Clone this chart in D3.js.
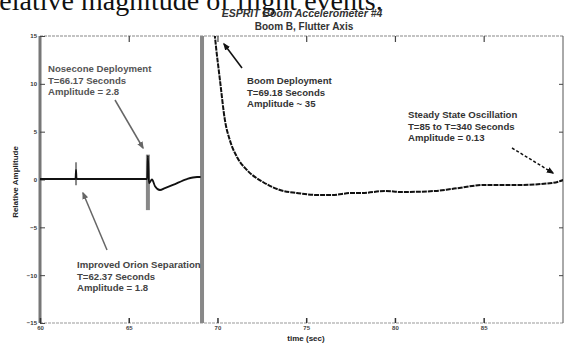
<!DOCTYPE html>
<html>
<head>
<meta charset="utf-8">
<script src="https://cdn.jsdelivr.net/npm/d3@7"></script>
<style>
  body { margin: 0; background: #fff; }
  svg { display: block; }
  text { font-family: "Liberation Sans", Arial, sans-serif; }
</style>
</head>
<body>
<svg id="chart"></svg>
<script>
// y ticks and x ticks
var yTicks = [-15, -10, -5, 0, 5, 10, 15];
var xTicks = [60, 65, 70, 75, 80, 85];

// trace before boom deployment (seconds, relative amplitude)
var preTime = [60.0, 61.0, 62.00, 62.03, 62.06, 64.0, 66.04, 66.08, 66.14, 66.31, 66.48, 66.76, 67.04, 67.49, 68.28, 68.85, 69.05];
var preAmp  = [0.05, 0.05, 0.05,  1.0,   0.05,  0.05, 0.05,  2.5,   -0.4,  0.0,  -0.7,  -1.1,  -0.9,  -0.57, 0.05,  0.26,  0.26];

// trace after boom deployment
var postTime = [69.78, 69.86, 70.14, 70.42, 70.70, 71.10, 71.66, 72.56, 73.52, 74.48, 75.66, 76.45, 77.58, 78.14, 79.44, 80.39, 82.25, 83.21, 85.07, 86.93, 88.85, 89.5];
var postAmp  = [16.5,  14.9,  10.4,  6.2,   4.1,   2.35,  0.99,  -0.26, -1.1,  -1.41, -1.62, -1.62, -1.41, -1.41, -1.20, -1.31, -1.20, -0.99, -0.57, -0.57, -0.37, -0.05];

// event bursts: time, peak high, peak low
var burstTime = [62.03, 66.08, 69.13];
var burstHigh = [1.8, 2.6, 35];
var burstLow  = [-0.6, -3.2, -35];

var W = 570, H = 345;
var m = {left: 40, right: 7, top: 36, bottom: 22};

var svg = d3.select("#chart").attr("width", W).attr("height", H);

var x = d3.scaleLinear().domain([60, 89.47]).range([m.left, W - m.right]);
var y = d3.scaleLinear().domain([-15, 15]).range([H - m.bottom, m.top]);

svg.append("clipPath").attr("id", "plot")
  .append("rect")
    .attr("x", m.left).attr("y", m.top)
    .attr("width", W - m.right - m.left)
    .attr("height", H - m.bottom - m.top);

// page heading cut off by the scan
svg.append("text")
    .attr("x", -10).attr("y", 10)
    .attr("font-size", 28)
    .attr("fill", "#111")
    .style("font-family", "'Liberation Serif', 'Times New Roman', serif")
    .text("relative magnitude of flight events.");

// titles
svg.append("text")
    .attr("x", 302).attr("y", 17)
    .attr("text-anchor", "middle")
    .attr("font-size", 10.5).attr("font-weight", "bold").attr("font-style", "italic")
    .attr("fill", "#333")
    .text("ESPRIT Boom Accelerometer #4");
svg.append("text")
    .attr("x", 304).attr("y", 30)
    .attr("text-anchor", "middle")
    .attr("font-size", 10).attr("font-weight", "bold")
    .attr("fill", "#333")
    .text("Boom B, Flutter Axis");

// frame
svg.append("line")
    .attr("x1", m.left).attr("x2", W - m.right)
    .attr("y1", m.top).attr("y2", m.top)
    .attr("stroke", "#888").attr("stroke-width", 1.2)
    .attr("stroke-dasharray", "3,1");
svg.append("line")
    .attr("x1", m.left).attr("x2", W - m.right)
    .attr("y1", H - m.bottom).attr("y2", H - m.bottom)
    .attr("stroke", "#999").attr("stroke-width", 1.2)
    .attr("stroke-dasharray", "3,1");
svg.append("line")
    .attr("x1", W - m.right).attr("x2", W - m.right)
    .attr("y1", m.top).attr("y2", H - m.bottom)
    .attr("stroke", "#555").attr("stroke-width", 1);
svg.append("line")
    .attr("x1", m.left).attr("x2", m.left)
    .attr("y1", m.top).attr("y2", H - m.bottom)
    .attr("stroke", "#777").attr("stroke-width", 3);

// y ticks and labels
var yAxisL = d3.axisLeft(y).tickValues(yTicks).tickSize(-5).tickPadding(3);
var gl = svg.append("g").attr("transform", "translate(" + m.left + ",0)").call(yAxisL);
gl.select(".domain").remove();
gl.selectAll("line").attr("stroke", "#444");
gl.selectAll("text").attr("font-size", 6).attr("font-weight", "bold").attr("fill", "#333")
  .attr("font-family", "Liberation Sans, Arial, sans-serif");

var yAxisR = d3.axisRight(y).tickValues([-10, -5, 5, 10]).tickSize(-4).tickFormat("");
var gr = svg.append("g").attr("transform", "translate(" + (W - m.right) + ",0)").call(yAxisR);
gr.select(".domain").remove();
gr.selectAll("line").attr("stroke", "#444");

// x ticks and labels
var xAxisB = d3.axisBottom(x).tickValues(xTicks).tickSize(-5).tickPadding(3);
var gb = svg.append("g").attr("transform", "translate(0," + (H - m.bottom) + ")").call(xAxisB);
gb.select(".domain").remove();
gb.selectAll("line").attr("stroke", "#333").attr("stroke-width", 1.5);
gb.selectAll("text").attr("font-size", 6).attr("font-weight", "bold").attr("fill", "#444")
  .attr("font-family", "Liberation Sans, Arial, sans-serif");

var xAxisT = d3.axisTop(x).tickValues(xTicks.slice(1)).tickSize(-6).tickFormat("");
var gt = svg.append("g").attr("transform", "translate(0," + m.top + ")").call(xAxisT);
gt.select(".domain").remove();
gt.selectAll("line").attr("stroke", "#444").attr("stroke-width", 1.2);

// axis titles
svg.append("text")
    .attr("transform", "translate(18," + 182 + ") rotate(-90)")
    .attr("text-anchor", "middle")
    .attr("font-size", 8).attr("font-weight", "bold").attr("fill", "#222")
    .text("Relative Amplitude");
svg.append("text")
    .attr("x", 306).attr("y", 341)
    .attr("text-anchor", "middle")
    .attr("font-size", 8).attr("font-weight", "bold").attr("fill", "#222")
    .text("time (sec)");

var plot = svg.append("g").attr("clip-path", "url(#plot)");

// event bursts
var burstW = [2, 4, 4];
plot.selectAll("rect.burst")
  .data(burstTime)
  .join("rect")
    .attr("class", "burst")
    .attr("x", function(d, i) { return x(d) - burstW[i] / 2; })
    .attr("width", function(d, i) { return burstW[i]; })
    .attr("y", function(d, i) { return y(burstHigh[i]); })
    .attr("height", function(d, i) { return y(burstLow[i]) - y(burstHigh[i]); })
    .attr("fill", "#888");

var line = d3.line()
    .x(function(d) { return x(d[0]); })
    .y(function(d) { return y(d[1]); })
    .curve(d3.curveMonotoneX);

plot.append("path")
    .datum(d3.zip(preTime, preAmp))
    .attr("d", line)
    .attr("fill", "none")
    .attr("stroke", "#111")
    .attr("stroke-width", 1.8);

plot.append("path")
    .datum(d3.zip(postTime, postAmp))
    .attr("d", line)
    .attr("fill", "none")
    .attr("stroke", "#111")
    .attr("stroke-width", 2)
    .attr("stroke-dasharray", "5,1");

// arrowheads
var defs = svg.append("defs");
[["arrowGray", "#666"], ["arrowBlack", "#111"]].forEach(function(a) {
  defs.append("marker")
      .attr("id", a[0])
      .attr("viewBox", "0 0 10 10")
      .attr("refX", 8).attr("refY", 5)
      .attr("markerWidth", 5).attr("markerHeight", 5)
      .attr("orient", "auto")
    .append("path")
      .attr("d", "M0,1 L10,5 L0,9 z")
      .attr("fill", a[1]);
});

// annotations
var notes = [
  {x: 48, y: 72, lines: ["Nosecone Deployment", "T=66.17 Seconds", "Amplitude = 2.8"], fill: "#555"},
  {x: 247, y: 84, lines: ["Boom Deployment", "T=69.18 Seconds", "Amplitude ~ 35"], fill: "#333"},
  {x: 408, y: 118, lines: ["Steady State Oscillation", "T=85 to T=340 Seconds", "Amplitude = 0.13"], fill: "#333"},
  {x: 77, y: 268, lines: ["Improved Orion Separation", "T=62.37 Seconds", "Amplitude = 1.8"], fill: "#444"}
];
notes.forEach(function(n) {
  var t = svg.append("text")
      .attr("x", n.x).attr("y", n.y)
      .attr("font-size", 9.6).attr("font-weight", "bold").attr("fill", n.fill);
  n.lines.forEach(function(s, i) {
    t.append("tspan").attr("x", n.x).attr("dy", i ? 11.5 : 0).text(s);
  });
});

var arrows = [
  {x1: 115, y1: 100, x2: 143, y2: 148, c: "#666", m: "arrowGray", dash: null},
  {x1: 242, y1: 68, x2: 224, y2: 44, c: "#111", m: "arrowBlack", dash: null},
  {x1: 512, y1: 148, x2: 553, y2: 173, c: "#111", m: "arrowBlack", dash: "3,2"},
  {x1: 107, y1: 250, x2: 83, y2: 193, c: "#666", m: "arrowGray", dash: null}
];
svg.selectAll("line.arrow")
  .data(arrows)
  .join("line")
    .attr("class", "arrow")
    .attr("x1", function(d) { return d.x1; })
    .attr("y1", function(d) { return d.y1; })
    .attr("x2", function(d) { return d.x2; })
    .attr("y2", function(d) { return d.y2; })
    .attr("stroke", function(d) { return d.c; })
    .attr("stroke-width", 1.5)
    .attr("stroke-dasharray", function(d) { return d.dash; })
    .attr("marker-end", function(d) { return "url(#" + d.m + ")"; });
</script>
</body>
</html>
